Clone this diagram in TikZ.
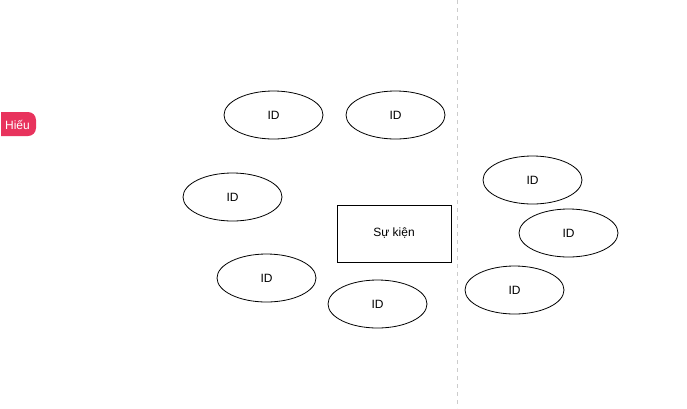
\documentclass[tikz,border=0pt]{standalone}
\usepackage{fontspec}
\setmainfont{Liberation Sans}
\usetikzlibrary{shapes,positioning}
\definecolor{tagpink}{HTML}{E8335D}
\definecolor{splitgrey}{HTML}{CCCCCC}

\begin{document}
\begin{tikzpicture}[x=1pt, y=-1pt,
  idnode/.style={draw, ellipse, line width=0.8pt,
    minimum width=99pt, minimum height=48pt, inner sep=0pt,
    font=\fontsize{12}{14}\selectfont},
  eventbox/.style={draw, rectangle, line width=0.8pt,
    minimum width=114pt, minimum height=57pt, inner sep=0pt,
    font=\fontsize{12}{14}\selectfont}
  ]
  \useasboundingbox (0,0) rectangle (687,408);
  % divider
  \draw[splitgrey, line width=1pt, dash pattern=on 4pt off 4pt] (457.5,0) -- (457.5,408);
  % tag
  \fill[tagpink] (1,136) -- (1,112) [rounded corners=8pt] -- (36,112) -- (36,136) [sharp corners] -- cycle;
  \node[text=white, font=\fontsize{12}{14}\selectfont] (hieu) at (17.5,124.5) {Hiếu};
  % event
  \node[eventbox] (sukien) at (394,233.5) {Sự kiện};
  % ids
  \node[idnode] (id1) at (273.5,115) {ID};
  \node[idnode] (id2) at (395.5,115) {ID};
  \node[idnode] (id3) at (232.5,197) {ID};
  \node[idnode] (id4) at (266.5,278) {ID};
  \node[idnode] (id5) at (377.5,304) {ID};
  \node[idnode] (id6) at (532.5,180) {ID};
  \node[idnode] (id7) at (568.5,233) {ID};
  \node[idnode] (id8) at (514.5,290) {ID};
\end{tikzpicture}
\end{document}
